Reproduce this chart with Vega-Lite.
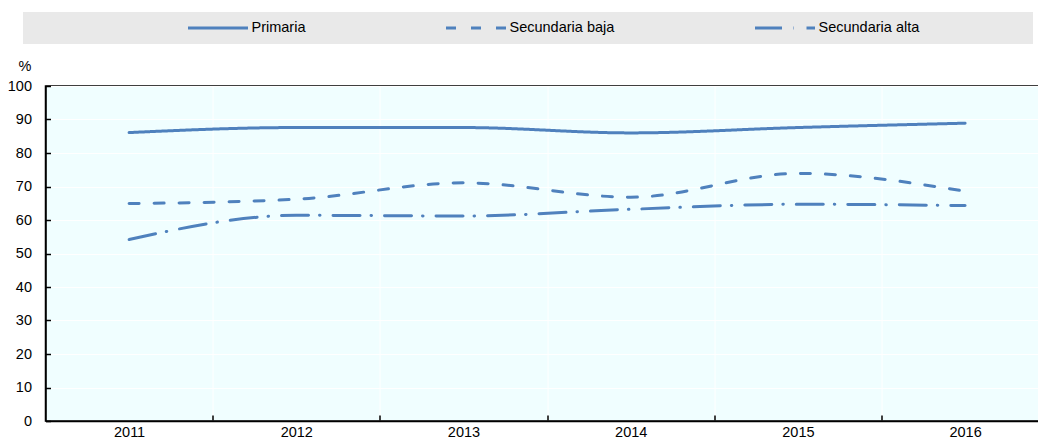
{
  "$schema": "https://vega.github.io/schema/vega-lite/v6.json",
  "autosize": "none",
  "width": 994,
  "height": 335,
  "padding": {"left": 45.5, "top": 86, "right": 0, "bottom": 18},
  "background": "white",
  "config": {
    "font": "Liberation Sans",
    "view": {"fill": "#F0FEFF", "stroke": "black", "strokeWidth": 1.5},
    "axis": {"labelFont": "Liberation Sans", "labelFontSize": 14.5, "labelColor": "black", "titleFont": "Liberation Sans", "titleFontSize": 14.5, "titleFontWeight": "normal", "titleColor": "black"},
    "legend": {"labelFont": "Liberation Sans", "labelFontSize": 14.5, "labelColor": "black"}
  },
  "data": {
    "values": [
      {"year": 2011, "level": "Primaria", "value": 86.1},
      {"year": 2012, "level": "Primaria", "value": 87.6},
      {"year": 2013, "level": "Primaria", "value": 87.6},
      {"year": 2014, "level": "Primaria", "value": 86.0},
      {"year": 2015, "level": "Primaria", "value": 87.6},
      {"year": 2016, "level": "Primaria", "value": 88.9},
      {"year": 2011, "level": "Secundaria baja", "value": 64.9},
      {"year": 2012, "level": "Secundaria baja", "value": 66.2},
      {"year": 2013, "level": "Secundaria baja", "value": 71.1},
      {"year": 2014, "level": "Secundaria baja", "value": 66.8},
      {"year": 2015, "level": "Secundaria baja", "value": 73.9},
      {"year": 2016, "level": "Secundaria baja", "value": 68.6},
      {"year": 2011, "level": "Secundaria alta", "value": 54.2},
      {"year": 2012, "level": "Secundaria alta", "value": 61.4},
      {"year": 2013, "level": "Secundaria alta", "value": 61.2},
      {"year": 2014, "level": "Secundaria alta", "value": 63.2},
      {"year": 2015, "level": "Secundaria alta", "value": 64.7},
      {"year": 2016, "level": "Secundaria alta", "value": 64.3}
    ]
  },
  "mark": {"type": "line", "interpolate": "monotone", "strokeWidth": 3, "strokeCap": "round", "color": "#4F81BD"},
  "encoding": {
    "x": {
      "field": "year",
      "type": "quantitative",
      "scale": {"domain": [2010.5, 2016.445], "nice": false, "zero": false},
      "axis": {
        "title": null,
        "values": [2011, 2012, 2013, 2014, 2015, 2016],
        "format": "d",
        "tickOffset": 83.6,
        "labelOffset": -83.6,
        "tickSize": -6,
        "tickColor": "black",
        "tickWidth": 1.5,
        "domainColor": "black",
        "domainWidth": 1.5,
        "grid": true,
        "gridColor": "white",
        "gridWidth": 1,
        "labelPadding": 10,
        "labelFlush": false,
        "labelOverlap": false
      }
    },
    "y": {
      "field": "value",
      "type": "quantitative",
      "scale": {"domain": [0, 100], "nice": false},
      "axis": {
        "title": "%",
        "titleAngle": 0,
        "titleAlign": "center",
        "titleBaseline": "middle",
        "titleX": -21,
        "titleY": -20,
        "values": [0, 10, 20, 30, 40, 50, 60, 70, 80, 90, 100],
        "tickSize": -5,
        "tickColor": "black",
        "tickWidth": 1.5,
        "domainColor": "black",
        "domainWidth": 1.5,
        "grid": true,
        "gridColor": "white",
        "gridWidth": 1,
        "labelPadding": 19,
        "labelOverlap": false
      }
    },
    "strokeDash": {
      "field": "level",
      "type": "nominal",
      "scale": {
        "domain": ["Primaria", "Secundaria baja", "Secundaria alta"],
        "range": [[1, 0], [10, 15], [27, 11, 0.5, 13]]
      },
      "legend": {
        "title": " ",
        "titleOrient": "left",
        "titlePadding": 155,
        "titleFontSize": 10,
        "orient": "none",
        "legendX": -22.5,
        "legendY": -74,
        "direction": "horizontal",
        "columns": 3,
        "gridAlign": "none",
        "columnPadding": 139,
        "padding": 8.5,
        "clipHeight": 15,
        "fillColor": "#E9E9E9",
        "symbolType": "stroke",
        "symbolSize": 3600,
        "symbolStrokeWidth": 3,
        "symbolStrokeColor": "#4F81BD",
        "labelOffset": 2,
        "labelLimit": 400,
        "labelExpr": "datum.label == 'Secundaria alta' ? datum.label + '\u00a0\u00a0\u00a0\u00a0\u00a0\u00a0\u00a0\u00a0\u00a0\u00a0\u00a0\u00a0\u00a0\u00a0\u00a0\u00a0\u00a0\u00a0\u00a0\u00a0\u00a0\u00a0\u00a0\u00a0\u00a0\u00a0\u200b' : datum.label"
      }
    }
  }
}
